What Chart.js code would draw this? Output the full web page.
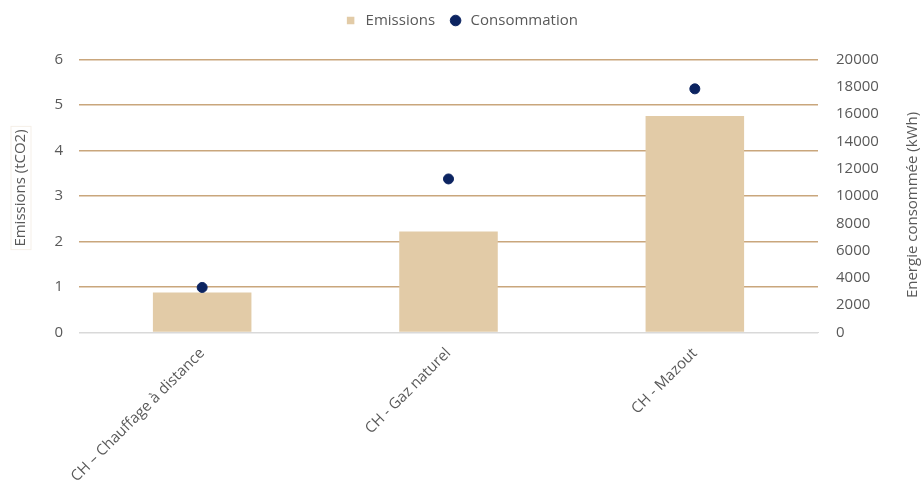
<!DOCTYPE html>
<html>
<head>
<meta charset="utf-8">
<script src="https://cdn.jsdelivr.net/npm/chart.js@4/dist/chart.umd.min.js"></script>
<style>
	html, body { margin: 0; padding: 0; background: #fff; }
	#wrap { width: 921px; height: 488px; }
</style>
</head>
<body>
<div id="wrap"><canvas id="chart"></canvas></div>
<script>
// data
const categories = ["CH \u2013 Chauffage \u00e0 distance", "CH - Gaz naturel", "CH - Mazout"];
const emissions = [0.88, 2.22, 4.76];
const consommation = [3300, 11250, 17850];

const leftTitle = "Emissions (tCO2)";
const rightTitle = "Energie consomm\u00e9e (kWh)";

const textColor = "#595959";
const gridColor = "#c9a67c";
const baseColor = "#d9d9d9";
const fontFamily = "'Open Sans', sans-serif";
const font = { family: fontFamily, size: 15 };

// plot area edges in the reference
const plotLeft = 79, plotTop = 59.5, plotRight = 818, plotBottom = 332.5;

// push the plot area down below the legend
const legendGap = {
	id: "legendGap",
	beforeInit(chart) {
		const fit = chart.legend.fit;
		chart.legend.fit = function () {
			fit.call(this);
			this.height = plotTop;
		};
	},
};

// both axis titles read bottom to top, so draw them by hand
const axisTitles = {
	id: "axisTitles",
	afterDraw(chart) {
		const ctx = chart.ctx;
		const mid = (chart.chartArea.top + chart.chartArea.bottom) / 2;
		ctx.save();
		ctx.font = `15px ${fontFamily}`;
		ctx.fillStyle = textColor;
		ctx.textAlign = "center";
		ctx.textBaseline = "middle";

		ctx.save();
		ctx.translate(21, mid - 8);
		ctx.rotate(-Math.PI / 2);
		const w = ctx.measureText(leftTitle).width;
		ctx.strokeStyle = "#f5efe8";
		ctx.lineWidth = 1;
		ctx.strokeRect(-w / 2 - 3, -10, w + 6, 20);
		ctx.fillText(leftTitle, 0, 0);
		ctx.restore();

		ctx.save();
		ctx.translate(913, mid + 9);
		ctx.rotate(-Math.PI / 2);
		ctx.fillText(rightTitle, 0, 0);
		ctx.restore();

		ctx.restore();
	},
};

new Chart(document.getElementById("chart"), {
	data: {
		labels: categories,
		datasets: [
			{
				type: "bar",
				label: "Emissions",
				data: emissions,
				backgroundColor: "#e2cba7",
				yAxisID: "y",
				order: 1,
				pointStyle: "rect",
				categoryPercentage: 1,
				barPercentage: 0.4,
			},
			{
				type: "line",
				label: "Consommation",
				data: consommation,
				showLine: false,
				pointRadius: 5,
				pointHoverRadius: 5,
				pointBackgroundColor: "#0c2461",
				pointBorderColor: "#0c2461",
				backgroundColor: "#0c2461",
				borderColor: "#0c2461",
				yAxisID: "y1",
				order: 0,
				pointStyle: "circle",
			},
		],
	},
	plugins: [legendGap, axisTitles],
	options: {
		responsive: true,
		maintainAspectRatio: false,
		animation: false,
		layout: { padding: { top: 0, left: 0, right: 0, bottom: 0 } },
		plugins: {
			tooltip: { enabled: false },
			legend: {
				position: "top",
				labels: {
					usePointStyle: true,
					boxHeight: 7.5,
					color: textColor,
					font: font,
					padding: 13,
					sort: (a, b) => a.datasetIndex - b.datasetIndex,
				},
			},
		},
		scales: {
			x: {
				grid: { display: false, drawTicks: false },
				border: { display: true, color: baseColor },
				ticks: {
					color: textColor,
					font: font,
					minRotation: 45,
					maxRotation: 45,
					autoSkip: false,
					padding: 12,
				},
				afterFit: (scale) => {
					scale.height = 488 - plotBottom;
				},
			},
			y: {
				position: "left",
				min: 0,
				max: 6,
				ticks: { stepSize: 1, color: textColor, font: font, padding: 16 },
				grid: {
					color: (ctx) => (ctx.tick && ctx.tick.value === 0 ? baseColor : gridColor),
					lineWidth: 1.5,
					drawTicks: false,
				},
				border: { display: false },
				afterFit: (scale) => {
					scale.width = plotLeft;
				},
			},
			y1: {
				position: "right",
				min: 0,
				max: 20000,
				ticks: {
					stepSize: 2000,
					color: textColor,
					font: font,
					padding: 18,
					crossAlign: "near",
					callback: (v) => String(v),
				},
				grid: { drawOnChartArea: false, drawTicks: false },
				border: { display: false },
				afterFit: (scale) => {
					scale.width = 921 - plotRight;
				},
			},
		},
	},
});
</script>
</body>
</html>
